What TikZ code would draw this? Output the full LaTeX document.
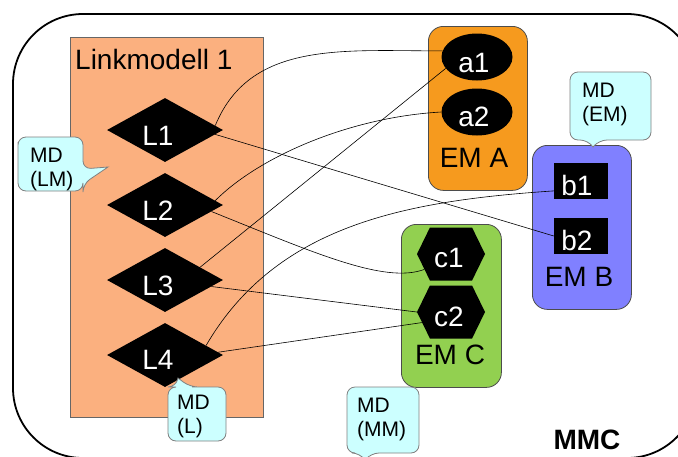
\documentclass[tikz,border=0pt]{standalone}
\usepackage{fontspec}
\setmainfont{Liberation Sans}
\usetikzlibrary{shapes.geometric,shapes.symbols}
\definecolor{linkfill}{RGB}{251,176,127}
\definecolor{emAfill}{RGB}{246,154,30}
\definecolor{emBfill}{RGB}{128,128,255}
\definecolor{emCfill}{RGB}{146,208,80}
\definecolor{mdfill}{RGB}{204,255,255}
\begin{document}
\begin{tikzpicture}[x=1pt,y=-1pt,
 conn/.style={line width=0.6pt, black},
 dia/.style={diamond, fill=black, minimum width=116pt, minimum height=64pt, inner sep=0pt},
 ell/.style={ellipse, fill=black, minimum width=71pt, minimum height=47pt, inner sep=0pt},
 sq/.style={rectangle, fill=black, minimum width=54pt, minimum height=36pt, inner sep=0pt},
 hex/.style={signal, signal to=east and west, signal pointer angle=128, fill=black, minimum width=68pt, minimum height=53pt, inner sep=0pt},
 wt/.style={text=white, font=\fontsize{28}{30}\selectfont, inner sep=0pt, anchor=base},
 bt/.style={text=black, font=\fontsize{28}{30}\selectfont, inner sep=0pt, anchor=base},
 emb/.style={draw=black!70, line width=0.8pt, rounded corners=15pt, anchor=north west, inner sep=0pt},
 md/.style={draw=black!50, fill=mdfill, line width=0.8pt},
 mdt/.style={font=\fontsize{21}{24}\selectfont, align=left, inner sep=0pt, anchor=north west},
]
\clip (0,0) rectangle (678,456);
% outer MMC frame
\draw[line width=1.8pt, rounded corners=70pt] (13,14) rectangle (697,458);
\node[font=\bfseries\fontsize{28}{30}\selectfont, inner sep=0pt, anchor=base] (mmc) at (587,449) {MMC};

% Linkmodell box
\node[draw=black!60, fill=linkfill, line width=0.8pt, minimum width=193pt, minimum height=380pt, anchor=north west, inner sep=0pt] (LM) at (70,37) {};
\node[bt, anchor=base west] (lmt) at (75,69) {Linkmodell 1};

% EM boxes
\node[emb, fill=emAfill, minimum width=99pt, minimum height=164pt] (EMA) at (428,26) {};
\node[emb, fill=emBfill, minimum width=99pt, minimum height=164pt] (EMB) at (532,145) {};
\node[emb, fill=emCfill, minimum width=100pt, minimum height=163pt] (EMC) at (401,224) {};
\node[bt] (emat) at (474,167) {EM A};
\node[bt] (embt) at (579,286) {EM B};
\node[bt] (emct) at (450,364) {EM C};

% link nodes
\node[dia] (L1) at (165,130) {};
\node[dia] (L2) at (165,205) {};
\node[dia] (L3) at (165,280) {};
\node[dia] (L4) at (165,355) {};
\node[wt] (L1t) at (158,145) {L1};
\node[wt] (L2t) at (158,220) {L2};
\node[wt] (L3t) at (158,295) {L3};
\node[wt] (L4t) at (158,369) {L4};

\node[ell] (a1) at (477,57) {};
\node[ell] (a2) at (477,112) {};
\node[wt] (a1t) at (474,72) {a1};
\node[wt] (a2t) at (474,126) {a2};

\node[sq] (b1) at (581,181) {};
\node[sq] (b2) at (581,236) {};
\node[wt] (b1t) at (577,195) {b1};
\node[wt] (b2t) at (577,250) {b2};

\node[hex] (c1) at (451,254) {};
\node[hex] (c2) at (451,312) {};
\node[wt] (c1t) at (449,267) {c1};
\node[wt] (c2t) at (449,326) {c2};

% connectors
\draw[conn] (L1.5) .. controls +(35,-85) and +(-100,0) .. (a1.170);
\draw[conn] (L1.-5) -- (b2.west);
\draw[conn] (L2.5) .. controls +(45,-45) and +(-90,5) .. (a2.west);
\draw[conn] (L2.-8) .. controls +(100,40) and +(-40,15) .. (c1.-150);
\draw[conn] (L3.20) -- (a1.-160);
\draw[conn] (L3.-8) -- (c2.west);
\draw[conn] (L4.13) .. controls +(70,-120) and +(-150,10) .. (b1.-160);
\draw[conn] (L4.3) -- (c2.-160);

% callouts
\draw[md] (18,150) [rounded corners=8pt] -- (18,137) -- (83,137) -- (83,169) [sharp corners] -- (108,167) [rounded corners=8pt] -- (83,184) -- (83,191) -- (18,191) -- cycle;
\node[mdt] (mdlm) at (30,148) {MD\\(LM)};

\draw[md] (610,72) [rounded corners=8pt] -- (651,72) -- (651,140) -- (599,140) [sharp corners] -- (593,147) [rounded corners=8pt] -- (588,140) -- (570,140) -- (570,72) -- cycle;
\node[mdt] (mdem) at (582,83) {MD\\(EM)};

\draw[md] (200,387) [rounded corners=8pt] -- (226,387) -- (226,441) -- (168,441) -- (168,387) -- (176,387) [sharp corners] -- (178,378) [rounded corners=8pt] -- (190,387) -- cycle;
\node[mdt] (mdl) at (177,395) {MD\\(L)};

\draw[md] (380,387) [rounded corners=8pt] -- (419,387) -- (419,453) -- (371,453) [sharp corners] -- (365,460) [rounded corners=8pt] -- (360,453) -- (347,453) -- (347,387) -- cycle;
\node[mdt] (mdmm) at (357,398) {MD\\(MM)};
\end{tikzpicture}
\end{document}
